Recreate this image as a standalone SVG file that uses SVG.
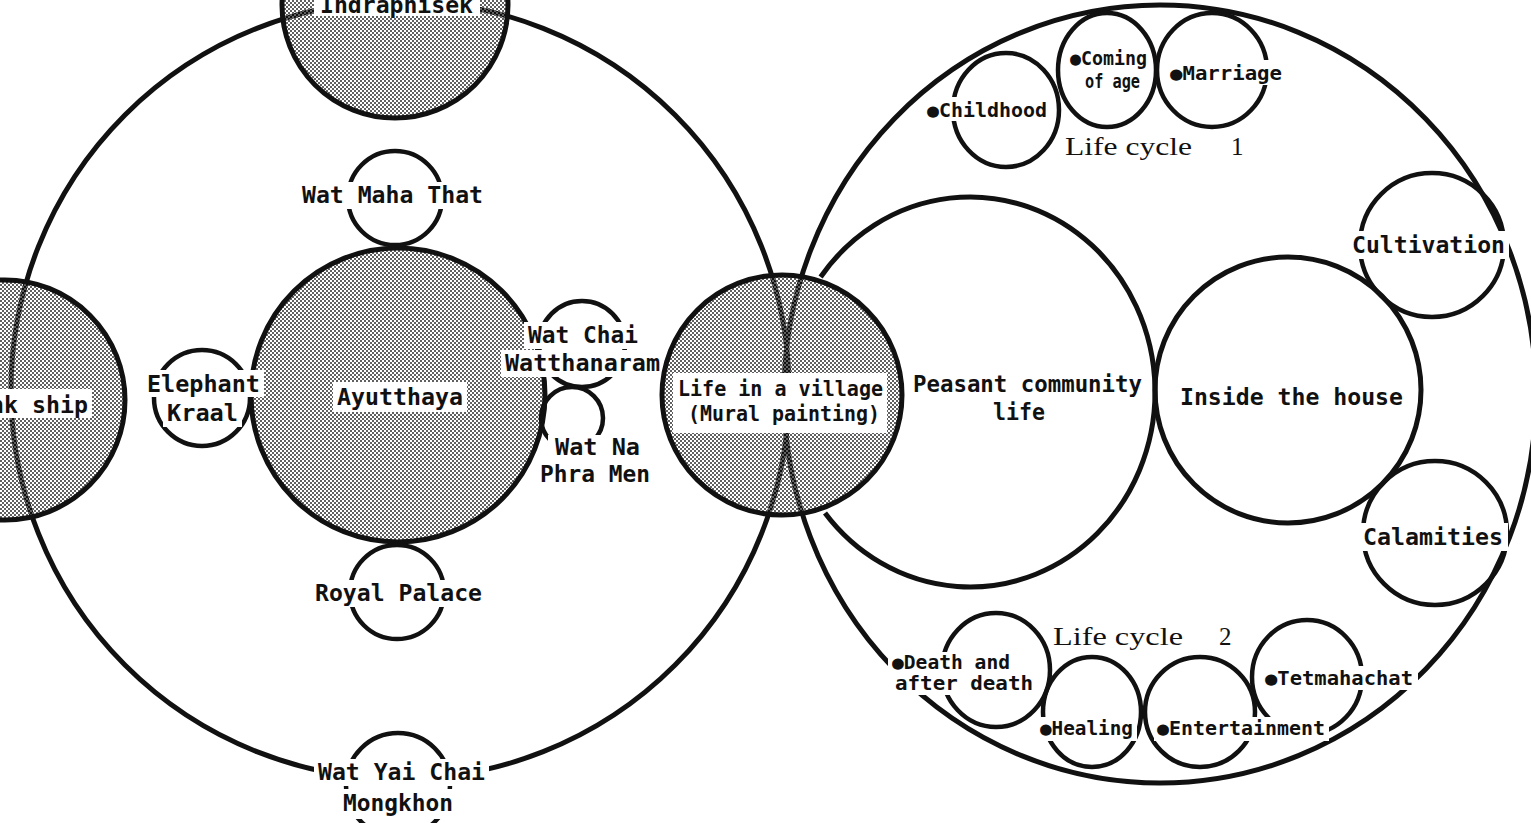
<svg xmlns="http://www.w3.org/2000/svg" width="1531" height="823" viewBox="0 0 1531 823">
<defs>
<pattern id="halftone" width="4" height="4" patternUnits="userSpaceOnUse">
<rect x="0" y="0" width="2" height="2" fill="#606060"/>
<rect x="2" y="2" width="2" height="2" fill="#606060"/>
</pattern>
<style>
.ring{fill:none;stroke:#111;stroke-width:5}
.thin{fill:none;stroke:#111;stroke-width:4.5}
.shade{fill:url(#halftone);stroke:#111;stroke-width:5}
.bg{fill:#fff;stroke:none}
.t{font-family:"DejaVu Sans Mono","Liberation Mono",monospace;font-size:23px;font-weight:bold;fill:#111}
.m{font-family:"DejaVu Sans Mono","Liberation Mono",monospace;font-size:21px;font-weight:bold;fill:#111}
.s{font-family:"DejaVu Sans Mono","Liberation Mono",monospace;font-size:19px;font-weight:bold;fill:#111}
.lc{font-family:"Liberation Serif","DejaVu Serif",serif;font-size:25px;fill:#111}
</style>
</defs>
<rect x="0" y="0" width="1531" height="823" fill="#fff"/>

<g id="connectors"/>

<g id="ayutthaya-region">
<circle class="ring" cx="400" cy="390" r="389"/>
</g>
<g id="village-region">
<ellipse class="ring" cx="1160" cy="394" rx="376" ry="389"/>
</g>

<g id="indraphisek">
<circle class="shade" cx="395" cy="5" r="113"/>
<rect class="bg" x="314" y="-10" width="166" height="26"/>
<text class="t" x="320" y="13" textLength="153" lengthAdjust="spacingAndGlyphs">Indraphisek</text>
</g>

<g id="junk-ship">
<circle class="shade" cx="5" cy="400" r="120"/>
<rect class="bg" x="-42" y="389" width="134" height="29"/>
<text class="t" x="-38" y="413" textLength="126" lengthAdjust="spacingAndGlyphs">Junk ship</text>
</g>

<g id="ayutthaya">
<circle class="shade" cx="398" cy="395" r="147"/>
<rect class="bg" x="333" y="382" width="134" height="30"/>
<text class="t" x="337" y="405" textLength="126" lengthAdjust="spacingAndGlyphs">Ayutthaya</text>
</g>

<g id="wat-maha-that">
<circle class="thin" cx="395" cy="198" r="47"/>
<rect class="bg" x="298" y="182" width="189" height="27"/>
<text class="t" x="302" y="203" textLength="181" lengthAdjust="spacingAndGlyphs">Wat Maha That</text>
</g>

<g id="royal-palace">
<circle class="thin" cx="397" cy="592" r="47"/>
<rect class="bg" x="311" y="580" width="175" height="27"/>
<text class="t" x="315" y="601" textLength="167" lengthAdjust="spacingAndGlyphs">Royal Palace</text>
</g>

<g id="wat-yai-chai-mongkhon">
<circle class="thin" cx="398" cy="785" r="52"/>
<rect class="bg" x="314" y="759" width="175" height="27"/>
<rect class="bg" x="339" y="789" width="118" height="30"/>
<text class="t" x="318" y="780" textLength="167" lengthAdjust="spacingAndGlyphs">Wat Yai Chai</text>
<text class="t" x="343" y="811" textLength="110" lengthAdjust="spacingAndGlyphs">Mongkhon</text>
</g>

<g id="elephant-kraal">
<circle class="thin" cx="202" cy="398" r="48"/>
<rect class="bg" x="143" y="370" width="121" height="27"/>
<rect class="bg" x="163" y="400" width="79" height="27"/>
<text class="t" x="147" y="392" textLength="113" lengthAdjust="spacingAndGlyphs">Elephant</text>
<text class="t" x="167" y="421" textLength="71" lengthAdjust="spacingAndGlyphs">Kraal</text>
</g>

<g id="wat-chai-watthanaram">
<circle class="thin" cx="582" cy="344" r="43"/>
<rect class="bg" x="524" y="322" width="118" height="27"/>
<rect class="bg" x="501" y="350" width="163" height="27"/>
<text class="t" x="528" y="343" textLength="110" lengthAdjust="spacingAndGlyphs">Wat Chai</text>
<text class="t" x="505" y="371" textLength="155" lengthAdjust="spacingAndGlyphs">Watthanaram</text>
</g>

<g id="wat-na-phra-men">
<circle class="thin" cx="572" cy="418" r="31"/>
<rect class="bg" x="548" y="435" width="96" height="26"/>
<rect class="bg" x="536" y="461" width="118" height="27"/>
<text class="t" x="555" y="455" textLength="85" lengthAdjust="spacingAndGlyphs">Wat Na</text>
<text class="t" x="540" y="482" textLength="110" lengthAdjust="spacingAndGlyphs">Phra Men</text>
</g>

<g id="peasant-community-life">
<path class="ring" d="M 820.6 277 A 185 195 0 1 1 825 513"/>
<text class="t" x="913" y="392" textLength="229" lengthAdjust="spacingAndGlyphs">Peasant community</text>
<text class="t" x="993" y="420" textLength="52" lengthAdjust="spacingAndGlyphs">life</text>
</g>

<g id="life-in-a-village">
<circle class="shade" cx="782" cy="395" r="120"/>
<rect class="bg" x="673" y="373" width="214" height="60"/>
<text class="m" x="678" y="396" textLength="205" lengthAdjust="spacingAndGlyphs">Life in a village</text>
<text class="m" x="688" y="421" textLength="192" lengthAdjust="spacingAndGlyphs">(Mural painting)</text>
</g>

<g id="inside-the-house">
<circle class="ring" cx="1288" cy="390" r="133"/>
<text class="t" x="1180" y="405" textLength="223" lengthAdjust="spacingAndGlyphs">Inside the house</text>
</g>

<g id="cultivation">
<circle class="thin" cx="1432" cy="245" r="72"/>
<rect class="bg" x="1349" y="231" width="160" height="28"/>
<text class="t" x="1352" y="253" textLength="153" lengthAdjust="spacingAndGlyphs">Cultivation</text>
</g>

<g id="calamities">
<circle class="thin" cx="1435" cy="533" r="72"/>
<rect class="bg" x="1360" y="523" width="148" height="28"/>
<text class="t" x="1363" y="545" textLength="140" lengthAdjust="spacingAndGlyphs">Calamities</text>
</g>

<g id="childhood">
<ellipse class="thin" cx="1006" cy="110" rx="53" ry="57"/>
<rect class="bg" x="924" y="97" width="126" height="24"/>
<text class="s" x="927" y="117" textLength="120" lengthAdjust="spacingAndGlyphs">●Childhood</text>
</g>

<g id="coming-of-age">
<ellipse class="thin" cx="1107" cy="70" rx="49" ry="57"/>
<rect class="bg" x="1067" y="47" width="82" height="46"/>
<text class="s" x="1070" y="65" textLength="77" lengthAdjust="spacingAndGlyphs">●Coming</text>
<text class="s" x="1085" y="88" textLength="55" lengthAdjust="spacingAndGlyphs">of age</text>
</g>

<g id="marriage">
<ellipse class="thin" cx="1212" cy="70" rx="55" ry="57"/>
<rect class="bg" x="1167" y="60" width="118" height="25"/>
<text class="s" x="1170" y="80" textLength="112" lengthAdjust="spacingAndGlyphs">●Marriage</text>
</g>

<g id="life-cycle-1">
<text class="lc" x="1065" y="155" textLength="127" lengthAdjust="spacingAndGlyphs">Life cycle</text>
<text class="lc" x="1231" y="155">1</text>
</g>

<g id="death-and-after-death">
<ellipse class="thin" cx="996" cy="670" rx="54" ry="57"/>
<rect class="bg" x="888" y="652" width="149" height="43"/>
<text class="s" x="892" y="669" textLength="118" lengthAdjust="spacingAndGlyphs">●Death and</text>
<text class="s" x="895" y="690" textLength="138" lengthAdjust="spacingAndGlyphs">after death</text>
</g>

<g id="healing">
<ellipse class="thin" cx="1092" cy="712" rx="49" ry="55"/>
<rect class="bg" x="1037" y="717" width="100" height="24"/>
<text class="s" x="1040" y="735" textLength="93" lengthAdjust="spacingAndGlyphs">●Healing</text>
</g>

<g id="tetmahachat">
<ellipse class="thin" cx="1307" cy="677" rx="55" ry="57"/>
<rect class="bg" x="1262" y="666" width="156" height="24"/>
<text class="s" x="1265" y="685" textLength="148" lengthAdjust="spacingAndGlyphs">●Tetmahachat</text>
</g>

<g id="entertainment">
<ellipse class="thin" cx="1200" cy="712" rx="55" ry="55"/>
<rect class="bg" x="1154" y="717" width="175" height="24"/>
<text class="s" x="1157" y="735" textLength="168" lengthAdjust="spacingAndGlyphs">●Entertainment</text>
</g>

<g id="life-cycle-2">
<text class="lc" x="1053" y="645" textLength="130" lengthAdjust="spacingAndGlyphs">Life cycle</text>
<text class="lc" x="1219" y="645">2</text>
</g>
</svg>
